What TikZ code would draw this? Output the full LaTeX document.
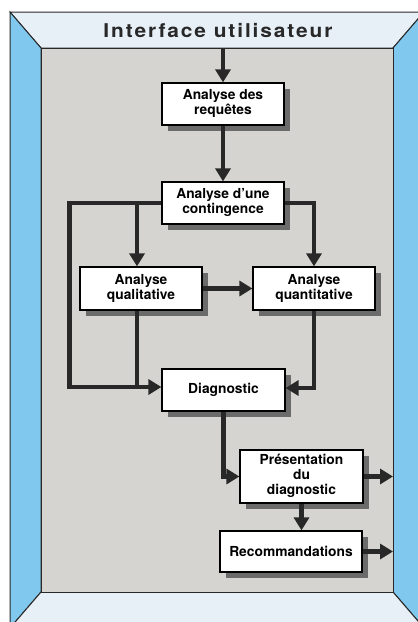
\documentclass[tikz,border=0pt]{standalone}
\usepackage{fontspec}
\setmainfont{TeX Gyre Heros}
\usepackage{tikz}
\usetikzlibrary{arrows.meta}
\usetikzlibrary{shadows}

\definecolor{cadreBleu}{RGB}{128,200,238}
\definecolor{cadreClair}{RGB}{232,240,247}
\definecolor{fondGris}{RGB}{214,212,208}
\definecolor{trait}{RGB}{40,40,40}

\begin{document}
\begin{tikzpicture}[x=1pt,y=-1pt,
		boite/.style={draw=black, line width=1.2pt, fill=white, minimum width=122pt, minimum height=42pt, inner sep=0pt,
			font=\bfseries\fontsize{13.8}{15}\selectfont,
			drop shadow={shadow xshift=6pt, shadow yshift=-6pt, fill=black!58, opacity=1}},
		fleche/.style={draw=trait, line width=4.5pt, -{Triangle[length=13pt,width=15pt]}},
		ligne/.style={draw=trait, line width=4.5pt},
		cadre/.style={draw=trait, line width=1pt}]
		
		\useasboundingbox (0,0) rectangle (418,622);
		
		% le cadre
		\begin{scope}
			\clip (0,0) rectangle (418,622);
			\fill[white] (0,0) rectangle (418,622);
			\filldraw[cadre, fill=cadreClair] (10,12) -- (424,12) -- (393,48) -- (41,48) -- cycle;
			\filldraw[cadre, fill=cadreBleu] (10,12) -- (41,48) -- (41,592) -- (10,628) -- cycle;
			\filldraw[cadre, fill=cadreBleu] (424,12) -- (393,48) -- (393,592) -- (424,628) -- cycle;
			\filldraw[cadre, fill=cadreClair] (10,628) -- (41,592) -- (393,592) -- (424,628) -- cycle;
			\filldraw[cadre, fill=fondGris] (41,48) rectangle (393,592);
		\end{scope}
		
		\node[font=\bfseries\fontsize{19}{21}\selectfont\addfontfeature{FakeStretch=1.1,LetterSpace=10}, text=trait] (titre) at (218,31) {Interface utilisateur};
		
		\coordinate (entree) at (223,48);
		\coordinate (bordD) at (393,0);
		
		\node[boite] (req) at (223,104){\begin{tabular}{c}Analyse des\\requêtes\end{tabular}};
		\node[boite] (cont) at (223,203){\begin{tabular}{c}Analyse d'une\\contingence\end{tabular}};
		\node[boite, minimum height=43pt] (qual) at (141,288.5){\begin{tabular}{c}Analyse\\qualitative\end{tabular}};
		\node[boite, minimum height=43pt] (quant) at (314,288.5){\begin{tabular}{c}Analyse\\quantitative\end{tabular}};
		\node[boite, minimum width=123pt] (diag) at (223.5,390){Diagnostic};
		\node[boite, minimum width=123pt, minimum height=53pt] (pres) at (301.5,476.5){\begin{tabular}{c}Présentation\\du\\diagnostic\end{tabular}};
		\node[boite, minimum width=142pt, minimum height=41pt] (reco) at (291,551.5){Recommandations};
		
		% les liaisons
		\draw[fleche] (entree) -- (req.north);
		\draw[fleche] (req) -- (cont);
		\draw[fleche] (cont.west) -- ++(-92,0) |- ([yshift=3pt]diag.west);
		\draw[fleche] (cont.west) -| ([xshift=-4pt]qual.north);
		\draw[ligne] ([xshift=-4pt]qual.south) -- ([xshift=-4pt,yshift=3pt]qual.south |- diag.west);
		\draw[fleche] (cont.east) -| (quant.north);
		\draw[fleche] (qual) -- (quant);
		\draw[fleche] (quant.south) |- ([yshift=2pt]diag.east);
		\draw[fleche] (diag.south) |- (pres.west);
		\draw[fleche] (pres.south) -- (pres.south |- reco.north);
		\draw[fleche] (pres.east) -- (pres.east -| bordD);
		\draw[fleche] (reco.east) -- (reco.east -| bordD);
		
\end{tikzpicture}
\end{document}
